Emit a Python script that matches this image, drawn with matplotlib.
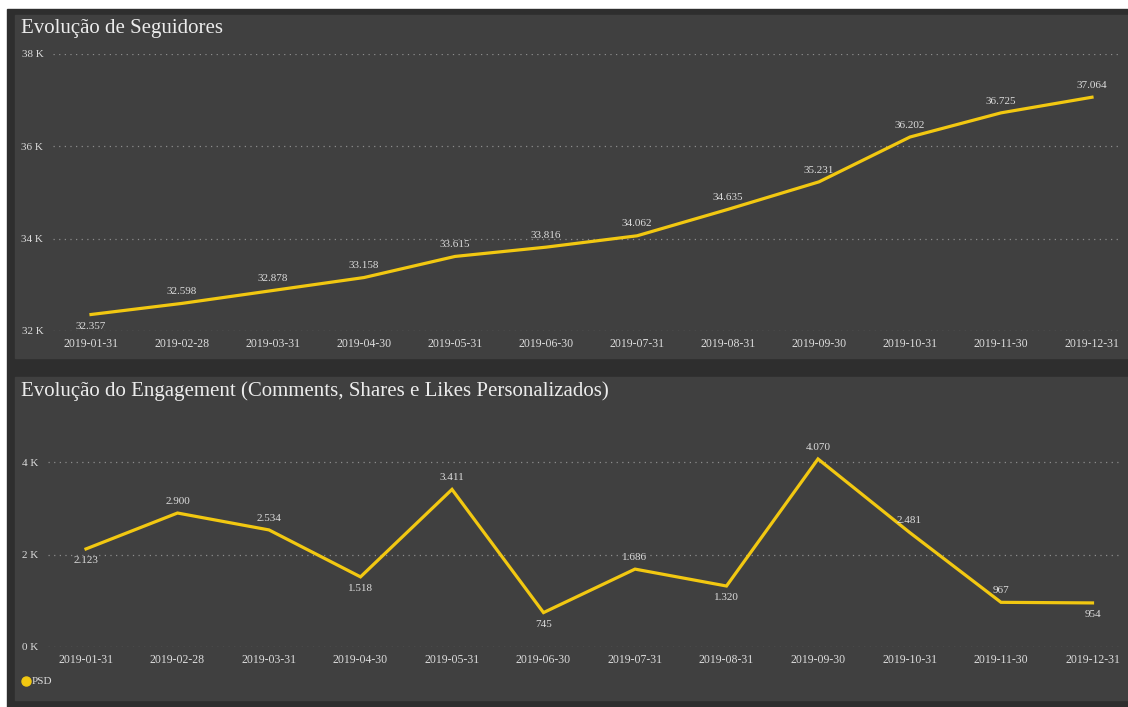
import matplotlib
matplotlib.use("Agg")
import matplotlib.pyplot as plt
import numpy as np
from matplotlib.patches import Rectangle
from matplotlib.lines import Line2D

plt.rcParams["font.family"] = ["Liberation Serif", "DejaVu Serif"]

# monthly snapshot dates
months = ["2019-01-31", "2019-02-28", "2019-03-31", "2019-04-30",
          "2019-05-31", "2019-06-30", "2019-07-31", "2019-08-31",
          "2019-09-30", "2019-10-31", "2019-11-30", "2019-12-31"]

followers = [32357, 32598, 32878, 33158, 33615, 33816,
             34062, 34635, 35231, 36202, 36725, 37064]
engagement = [2123, 2900, 2534, 1518, 3411, 745,
              1686, 1320, 4070, 2481, 967, 954]

# label placement: +1 above the point, -1 below
followers_pos = [-1, 1, 1, 1, 1, 1, 1, 1, 1, 1, 1, 1]
engagement_pos = [-1, 1, 1, -1, 1, -1, 1, -1, 1, 1, 1, -1]

W, H = 1128, 707
BG_FRAME = "#2e2e2e"
BG_PANEL = "#404040"
LINE_COL = "#f2c811"
TEXT_COL = "#dcdcdc"
GRID_COL = "#8c8c8c"


def fx(px):
    return px / W


def fy(py):
    return 1 - py / H


def rect(x0, y0, x1, y1, color):
    fig.add_artist(Rectangle((fx(x0), fy(y1)), fx(x1) - fx(x0), fy(y0) - fy(y1),
                             transform=fig.transFigure, color=color, zorder=0))


def fmt_k(v):
    return f"{v / 1000:.0f} K"


def fmt_dots(v):
    return f"{v:,}".replace(",", ".")


def line_panel(left, right, top, bottom, p0, step, ylim, yticks, values, pos):
    ax = fig.add_axes([fx(left), fy(bottom), fx(right) - fx(left), fy(top) - fy(bottom)])
    ax.set_facecolor("none")
    x = np.arange(len(values))
    ax.plot(x, values, color=LINE_COL, lw=2.3, solid_joinstyle="miter", clip_on=False)
    ax.set_xlim((left - p0) / step, (right - p0) / step)
    ax.set_ylim(*ylim)
    ax.set_yticks(yticks)
    ax.set_yticklabels([fmt_k(t) for t in yticks])
    ax.set_xticks(x)
    ax.set_xticklabels(months)
    ax.tick_params(length=0, colors=TEXT_COL, labelsize=8.5)
    ax.tick_params(axis="y", pad=7, labelsize=8)
    ax.tick_params(axis="x", pad=5)
    ax.grid(axis="y", color=GRID_COL, linestyle=(0, (1, 3.5)), linewidth=0.9)
    ax.set_axisbelow(True)
    for s in ax.spines.values():
        s.set_visible(False)
    for xi, v, p in zip(x, values, pos):
        ax.annotate(fmt_dots(v), (xi, v), xytext=(0, 8.5 * p), textcoords="offset points",
                    ha="center", va="center", fontsize=8, color=TEXT_COL,
                    annotation_clip=False)
    return ax


fig = plt.figure(figsize=(W / 100, H / 100), dpi=100, facecolor="white")

rect(7, 9, W, H, BG_FRAME)
rect(15, 15, W, 358, BG_PANEL)
rect(15, 377, W, 700, BG_PANEL)

fig.text(fx(21), fy(28), "Evolução de Seguidores", fontsize=15,
         color="#ececec", va="center", ha="left")
fig.text(fx(21), fy(391), "Evolução do Engagement (Comments, Shares e Likes Personalizados)",
         fontsize=15, color="#ececec", va="center", ha="left")

line_panel(53, 1122, 54, 331, 91, 91.0, (32000, 38000),
           [32000, 34000, 36000, 38000], followers, followers_pos)

line_panel(48, 1122, 416, 647, 86, 91.5, (0, 5000),
           [0, 2000, 4000], engagement, engagement_pos)

# legend
fig.add_artist(Line2D([fx(26)], [fy(681)], marker="o", markersize=6.5, color=LINE_COL,
                      linestyle="none", transform=fig.transFigure))
fig.text(fx(32), fy(681), "PSD", fontsize=8, color=TEXT_COL, va="center", ha="left")

fig.savefig("out.png", dpi=100, facecolor=fig.get_facecolor())
